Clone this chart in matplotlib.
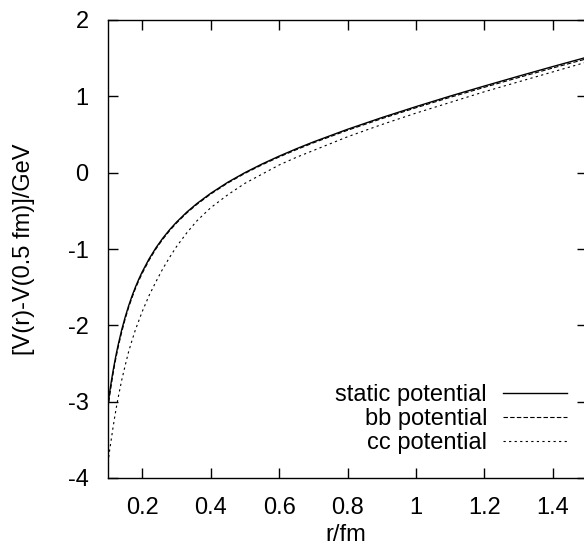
import matplotlib
matplotlib.use("Agg")
import matplotlib.pyplot as plt
import numpy as np

plt.rcParams['font.family'] = ['Liberation Sans', 'DejaVu Sans']
plt.rcParams['axes.unicode_minus'] = False

# r values in fm and potentials (GeV)
r = [0.10, 0.105, 0.11, 0.115, 0.12, 0.125, 0.13, 0.14, 0.15, 0.16, 0.17, 0.18, 0.19, 0.20,
     0.22, 0.24, 0.26, 0.28, 0.30, 0.33, 0.36, 0.40, 0.45, 0.50,
     0.55, 0.60, 0.65, 0.70, 0.80, 0.90, 1.00, 1.10, 1.20, 1.30, 1.40, 1.50]

static = [-3.032, -2.872, -2.726, -2.592, -2.469, -2.355, -2.250, -2.060, -1.895, -1.748,
          -1.618, -1.501, -1.395, -1.299,
          -1.130, -0.985, -0.859, -0.748, -0.649, -0.518, -0.404, -0.271, -0.126, 0.000,
          0.113, 0.216, 0.312, 0.402, 0.568, 0.721, 0.865, 1.003, 1.135, 1.264, 1.390, 1.513]

bb = [-3.09, -2.92, -2.77, -2.63, -2.50, -2.39, -2.28, -2.09, -1.92, -1.77,
      -1.64, -1.52, -1.415, -1.32,
      -1.148, -1.00, -0.873, -0.761, -0.661, -0.529, -0.415, -0.281, -0.136, -0.010,
      0.102, 0.205, 0.300, 0.390, 0.555, 0.707, 0.850, 0.987, 1.118, 1.246, 1.371, 1.493]

cc = [-3.80, -3.63, -3.48, -3.33, -3.19, -3.06, -2.94, -2.72, -2.53, -2.35,
      -2.20, -2.06, -1.94, -1.82,
      -1.61, -1.43, -1.26, -1.11, -0.97, -0.79, -0.63, -0.46, -0.29, -0.14,
      -0.02, 0.10, 0.20, 0.29, 0.47, 0.63, 0.78, 0.92, 1.06, 1.19, 1.32, 1.45]

labels = ['static potential', 'bb potential', 'cc potential']

fs = 17

fig = plt.figure(figsize=(5.84, 5.46), dpi=100)
ax = fig.add_axes([108 / 584, 68 / 546, 479 / 584, 458 / 546])

ax.plot(r, static, color='black', lw=1.0, ls='-', label=labels[0])
ax.plot(r, bb, color='black', lw=0.8, ls=(0, (4, 2)), label=labels[1])
ax.plot(r, cc, color='black', lw=0.8, ls=(0, (2, 3)), label=labels[2])

ax.set_xlim(0.1, 1.5)
ax.set_ylim(-4, 2)
ax.set_xticks([0.2, 0.4, 0.6, 0.8, 1.0, 1.2, 1.4])
ax.set_xticklabels(['0.2', '0.4', '0.6', '0.8', '1', '1.2', '1.4'])
ax.set_yticks([-4, -3, -2, -1, 0, 1, 2])
ax.tick_params(direction='in', length=7, width=1, top=True, right=True,
               labelsize=fs)
ax.tick_params(axis='y', pad=14)
ax.tick_params(axis='x', pad=14)
for s in ax.spines.values():
    s.set_linewidth(1.0)

ax.set_xlabel('r/fm', fontsize=fs)
ax.set_ylabel('[V(r)-V(0.5 fm)]/GeV', fontsize=fs)
ax.xaxis.set_label_coords(0.497, -0.1)
ax.yaxis.set_label_coords(-0.152, 0.5)

ax.legend(loc='lower right', bbox_to_anchor=(0.958, 0.052), frameon=False,
          markerfirst=False, fontsize=fs, handlelength=2.7, handletextpad=0.68,
          labelspacing=0.09, borderpad=0, borderaxespad=0)

fig.savefig('out.png', dpi=100)
